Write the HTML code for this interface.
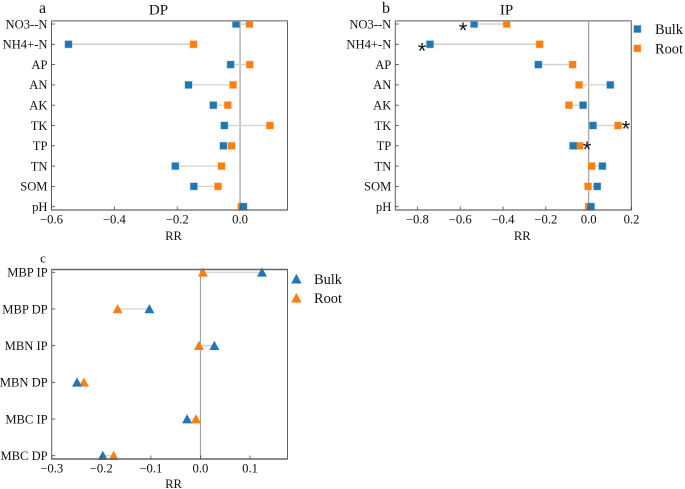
<!DOCTYPE html>
<html lang="en">
<head>
<meta charset="utf-8">
<title>RR charts</title>
<style>
html,body{margin:0;padding:0;background:#fff;}
body{width:685px;height:489px;overflow:hidden;}
svg{display:block;font-family:"Liberation Serif",serif;fill:#111;filter:blur(0.3px);}
</style>
</head>
<body>
<svg id="chart" xmlns="http://www.w3.org/2000/svg" width="685" height="489" viewBox="0 0 685 489"></svg>
<script>
const nutrientCategories = ["NO3--N","NH4+-N","AP","AN","AK","TK","TP","TN","SOM","pH"];
const dpBulk = [-0.013,-0.546,-0.03,-0.164,-0.085,-0.05,-0.053,-0.206,-0.147,0.011];
const dpRoot = [0.03,-0.148,0.031,-0.022,-0.039,0.095,-0.027,-0.059,-0.07,0.004];
const dpTicks = [-0.6,-0.4,-0.2,0.0];
const ipBulk = [-0.535,-0.741,-0.235,0.101,-0.026,0.02,-0.073,0.064,0.04,0.011];
const ipRoot = [-0.383,-0.229,-0.075,-0.045,-0.092,0.137,-0.042,0.014,-0.003,0];
const ipTicks = [-0.8,-0.6,-0.4,-0.2,0.0,0.2];
const ipStars = [-0.587,-0.778,null,null,null,0.174,-0.008,null,null,null];
const microbeCategories = ["MBP IP","MBP DP","MBN IP","MBN DP","MBC IP","MBC DP"];
const mbBulk = [0.124,-0.103,0.028,-0.249,-0.027,-0.197];
const mbRoot = [0.005,-0.167,-0.003,-0.235,-0.009,-0.175];
const mbTicks = [-0.3,-0.2,-0.1,0.0,0.1];

const svg = document.getElementById('chart');
const NS = 'http://www.w3.org/2000/svg';
const BLUE = '#1f77b4', ORANGE = '#ff7f0e';

function mk(tag, attrs, parent, text) {
  const el = document.createElementNS(NS, tag);
  for (const k in attrs) el.setAttribute(k, attrs[k]);
  if (text !== undefined) el.textContent = text;
  (parent || svg).appendChild(el);
  return el;
}
function fmt(v) {
  return (v < 0 ? '\u2212' : '') + Math.abs(v).toFixed(1);
}
function marker(parent, shape, cx, cy, color, size) {
  if (shape === 'square') {
    mk('rect', {x: cx - size/2 - 0.6, y: cy - size/2 - 0.6, width: size + 1.2, height: size + 1.2, fill: color, opacity: 0.25}, parent);
    return mk('rect', {x: cx - size/2, y: cy - size/2, width: size, height: size, fill: color}, parent);
  }
  const h = size * 0.86, w = size;
  return mk('polygon', {points: `${cx},${cy - h/2 - 0.6} ${cx + w/2},${cy + h/2} ${cx - w/2},${cy + h/2}`, fill: color}, parent);
}
function legendItem(parent, shape, x, y, tx, label, color, size, fs) {
  const g = mk('g', {}, parent);
  
  
  marker(g, shape, x, y, color, size);
  mk('text', {x: tx, y: y + 5, 'font-size': fs}, g, label);
}

function panel(cfg) {
  const g = mk('g', {});
  
  
  const sx = v => cfg.left + (v - cfg.xMin) / (cfg.xMax - cfg.xMin) * (cfg.right - cfg.left);
  const n = cfg.cats.length;
  const sy = i => cfg.firstY + i * (cfg.lastY - cfg.firstY) / (n - 1);

  // zero reference line
  const zero = mk('line', {x1: sx(0), x2: sx(0), y1: cfg.top, y2: cfg.bottom, stroke: '#a3a3a3', 'stroke-width': 1.2}, g);
  
  

  // connectors
  cfg.cats.forEach((c, i) => {
    const l = mk('line', {x1: sx(cfg.bulk[i]), x2: sx(cfg.root[i]), y1: sy(i), y2: sy(i), stroke: '#d2d2d2', 'stroke-width': i < 3 && cfg.shape === 'square' ? 1.6 : 1.2}, g);
    
    
  });

  // root then bulk markers
  cfg.cats.forEach((c, i) => {
    const m = marker(g, cfg.shape, sx(cfg.root[i]), sy(i), ORANGE, cfg.mSize);
    
    
  });
  cfg.cats.forEach((c, i) => {
    const m = marker(g, cfg.shape, sx(cfg.bulk[i]), sy(i), BLUE, cfg.mSize);
    
    
  });

  // significance stars
  if (cfg.stars) {
    cfg.stars.forEach((v, i) => {
      if (v === null) return;
      const s = mk('text', {x: sx(v), y: sy(i) + (i < 2 ? 14 : 11.2), 'font-size': 22, 'text-anchor': 'middle', 'font-family': '"Liberation Sans",sans-serif', fill: '#111'}, g, '*');
      
      
    });
  }

  // frame
  const frame = mk('rect', {x: cfg.left, y: cfg.top, width: cfg.right - cfg.left, height: cfg.bottom - cfg.top, fill: 'none', stroke: '#5e5e5e', 'stroke-width': 1}, g);
  
  
  mk('line', {x1: cfg.left, x2: cfg.right, y1: cfg.top, y2: cfg.top, stroke: cfg.topColor, 'stroke-width': 1.6}, g);
  mk('line', {x1: cfg.left, x2: cfg.right, y1: cfg.bottom, y2: cfg.bottom, stroke: '#666', 'stroke-width': cfg.bottomWidth}, g);

  // y axis
  cfg.cats.forEach((c, i) => {
    mk('line', {x1: cfg.left, x2: cfg.left + 3.5, y1: sy(i), y2: sy(i), stroke: '#444', 'stroke-width': 0.8}, g);
    const t = mk('text', {x: cfg.left - 4, y: sy(i) + 4.3, 'font-size': 12.6, 'text-anchor': 'end'}, g, c);
    
    
  });

  // x axis
  cfg.ticks.forEach(v => {
    mk('line', {x1: sx(v), x2: sx(v), y1: cfg.bottom, y2: cfg.bottom - 3.5, stroke: '#444', 'stroke-width': 0.8}, g);
    const t = mk('text', {x: sx(v), y: cfg.bottom + 13.6, 'font-size': 12.7, 'text-anchor': 'middle'}, g, fmt(v));
    
    
  });

  const xt = mk('text', {x: cfg.rrX, y: cfg.rrY, 'font-size': 12.6, 'text-anchor': 'middle'}, g, 'RR');
  
  

  if (cfg.title) {
    const t = mk('text', {x: cfg.titleX, y: 14.5, 'font-size': 15, 'text-anchor': 'middle'}, g, cfg.title);
    
    
  }
  const pl = mk('text', {x: cfg.letterX, y: cfg.letterY, 'font-size': cfg.letterSize, 'text-anchor': 'middle'}, g, cfg.letter);
  
  
  return g;
}

panel({name:'dp', title:'DP', titleX:158.5, letter:'a', letterX:42.5, letterY:12.8, letterSize:16,
  rrX:173.5, rrY:240, topColor:'#9a9a9a', bottomWidth:1.2,
  left:51.5, right:287.5, top:20.8, bottom:210, xMin:-0.6, xMax:0.151,
  firstY:24, lastY:206.7, cats:nutrientCategories, bulk:dpBulk, root:dpRoot,
  ticks:dpTicks, shape:'square', mSize:7});

const pb = panel({name:'ip', title:'IP', titleX:506.5, letter:'b', letterX:386, letterY:13, letterSize:16,
  rrX:522.3, rrY:240, topColor:'#9a9a9a', bottomWidth:1.2,
  left:395.3, right:631.3, top:20.8, bottom:210, xMin:-0.903, xMax:0.199,
  firstY:24, lastY:206.7, cats:nutrientCategories, bulk:ipBulk, root:ipRoot,
  ticks:ipTicks, stars:ipStars, shape:'square', mSize:7});
legendItem(pb, 'square', 637.4, 29, 655, 'Bulk', BLUE, 7, 14.4);
legendItem(pb, 'square', 637.4, 48.4, 655, 'Root', ORANGE, 7, 14.4);

const pc = panel({name:'microbial', letter:'c', letterX:43, letterY:262.7, letterSize:13,
  rrX:173.5, rrY:488, topColor:'#666', bottomWidth:1.6,
  left:51.7, right:287.5, top:269.5, bottom:459, xMin:-0.3, xMax:0.1755,
  firstY:272.3, lastY:455.7, cats:microbeCategories, bulk:mbBulk, root:mbRoot,
  ticks:mbTicks, shape:'triangle', mSize:10});
legendItem(pc, 'triangle', 296.4, 279, 314, 'Bulk', BLUE, 10.5, 14.4);
legendItem(pc, 'triangle', 296.4, 298, 314, 'Root', ORANGE, 10.5, 14.4);
</script>
</body>
</html>
